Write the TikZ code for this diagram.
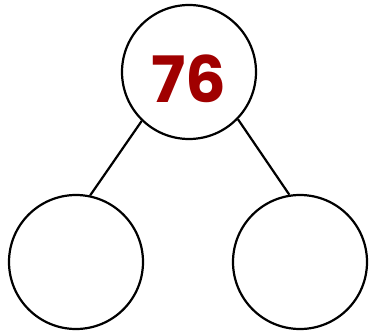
\documentclass[tikz,border=0pt]{standalone}
\usepackage{fontspec}
\setmainfont{Poppins}
\usepackage{tikz}
\definecolor{numred}{HTML}{A00000}
\tikzset{bond/.style={circle,draw,line width=2.2pt,minimum size=134pt,inner sep=0pt}}

\begin{document}
\begin{tikzpicture}[x=1pt,y=-1pt]
\useasboundingbox (0,0) rectangle (371,334);
\node[bond] (whole) at (189,72) {};
\node[bond] (partl) at (76,262) {};
\node[bond] (partr) at (300,262) {};
\node[text=numred,font=\fontsize{64}{64}\selectfont\bfseries] (num) at (189,79) {76};
\draw[line width=2.2pt] (whole.-134)--(partl.78);
\draw[line width=2.2pt] (whole.-44)--(partr.99);
\end{tikzpicture}
\end{document}
